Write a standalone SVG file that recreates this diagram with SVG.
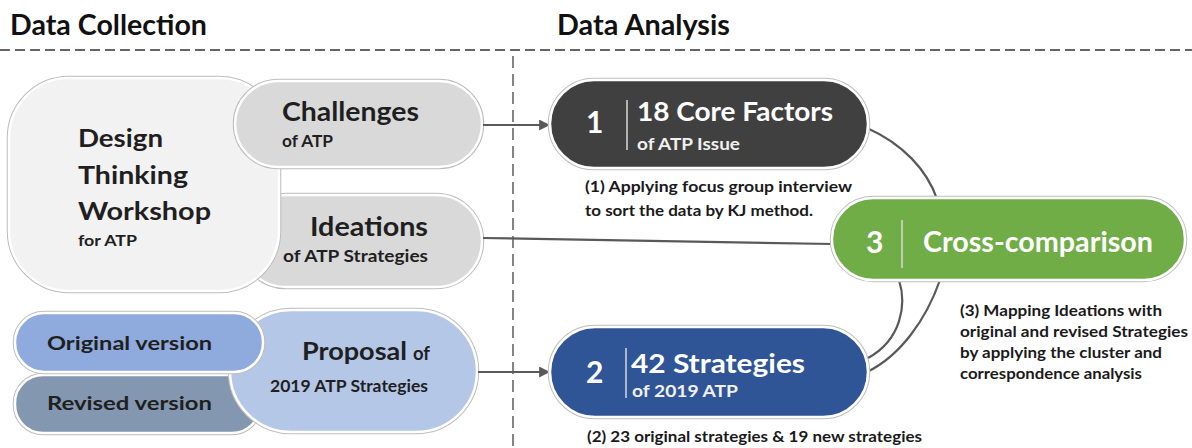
<svg xmlns="http://www.w3.org/2000/svg" width="1192" height="448" viewBox="0 0 1192 448">
<defs>
<style>
text{font-family:Lato,"Open Sans","Liberation Sans",sans-serif;font-weight:700}
.title{font-size:28px;fill:#111}
.dark{fill:#1f1f1f}
.wh{fill:#ffffff}
.sub{fill:#f0f0f0}
.ann{font-size:16px;fill:#1a1a1a}
.outer{stroke:#bdbdbd;stroke-width:4.5}
.inner{stroke:#ffffff;stroke-width:2.5}
.conn{fill:none;stroke:#595959;stroke-width:2.2}
.div{stroke:#d9d9d9;stroke-width:1.5}
</style>
<marker id="ah" viewBox="0 0 10 10" refX="9" refY="5" markerWidth="5" markerHeight="5" orient="auto" markerUnits="strokeWidth">
<path d="M0,0 L10,5 L0,10 z" fill="#595959"/>
</marker>
</defs>
<rect width="1192" height="448" fill="#ffffff"/>

<g id="headers">
<text class="title" x="10" y="35" textLength="197" lengthAdjust="spacingAndGlyphs">Data Collection</text>
<text class="title" x="557" y="35" textLength="173" lengthAdjust="spacingAndGlyphs">Data Analysis</text>
<line x1="0" y1="50" x2="1192" y2="50" stroke="#333" stroke-width="1.5" stroke-dasharray="10 5"/>
<line x1="513" y1="56" x2="513" y2="448" stroke="#444" stroke-width="1.3" stroke-dasharray="12 6"/>
</g>

<g id="ideations">
<rect class="outer" x="240" y="195" width="242" height="92" rx="46" fill="#d9d9d9"/>
<rect class="inner" x="240" y="195" width="242" height="92" rx="46" fill="#d9d9d9"/>
<text class="dark" x="310" y="236" font-size="27" textLength="118" lengthAdjust="spacingAndGlyphs">Ideations</text>
<text class="dark" x="283" y="262" font-size="17" textLength="145" lengthAdjust="spacingAndGlyphs">of ATP Strategies</text>
</g>

<g id="workshop">
<rect class="outer" x="9" y="78" width="270" height="213" rx="60" fill="#f2f2f2"/>
<rect class="inner" x="9" y="78" width="270" height="213" rx="60" fill="#f2f2f2"/>
<text class="dark" x="78" y="147" font-size="25" textLength="85" lengthAdjust="spacingAndGlyphs">Design</text>
<text class="dark" x="78" y="184" font-size="25" textLength="110" lengthAdjust="spacingAndGlyphs">Thinking</text>
<text class="dark" x="78" y="220" font-size="25" textLength="133" lengthAdjust="spacingAndGlyphs">Workshop</text>
<text class="dark" x="78" y="246" font-size="16" textLength="59" lengthAdjust="spacingAndGlyphs">for ATP</text>
</g>

<g id="challenges">
<rect class="outer" x="235" y="81" width="247" height="86" rx="43" fill="#d9d9d9"/>
<rect class="inner" x="235" y="81" width="247" height="86" rx="43" fill="#d9d9d9"/>
<text class="dark" x="282" y="121" font-size="26" textLength="137" lengthAdjust="spacingAndGlyphs">Challenges</text>
<text class="dark" x="282" y="147" font-size="17" textLength="51" lengthAdjust="spacingAndGlyphs">of ATP</text>
</g>

<g id="revised">
<rect class="outer" x="15" y="375" width="245" height="58" rx="28" fill="#8497b0"/>
<rect class="inner" x="15" y="375" width="245" height="58" rx="28" fill="#8497b0"/>
<text class="dark" x="47" y="410" font-size="19" textLength="165" lengthAdjust="spacingAndGlyphs">Revised version</text>
</g>

<g id="proposal">
<rect class="outer" x="230" y="310" width="247" height="122" rx="61" fill="#b4c7e7"/>
<rect class="inner" x="230" y="310" width="247" height="122" rx="61" fill="#b4c7e7"/>
<text class="dark" x="302" y="360" font-size="25" textLength="105" lengthAdjust="spacingAndGlyphs">Proposal</text>
<text class="dark" x="413" y="360" font-size="18" textLength="17" lengthAdjust="spacingAndGlyphs">of</text>
<text class="dark" x="270" y="392" font-size="17" textLength="158" lengthAdjust="spacingAndGlyphs">2019 ATP Strategies</text>
</g>

<g id="original">
<rect class="outer" x="15" y="313" width="248" height="59" rx="29" fill="#8faadc"/>
<rect class="inner" x="15" y="313" width="248" height="59" rx="29" fill="#8faadc"/>
<text class="dark" x="47" y="350" font-size="19" textLength="165" lengthAdjust="spacingAndGlyphs">Original version</text>
</g>

<g id="connectors">
<line class="conn" x1="483" y1="125" x2="549" y2="125" marker-end="url(#ah)"/>
<line class="conn" x1="478" y1="372" x2="549" y2="372" marker-end="url(#ah)"/>
<path class="conn" d="M483,238 L833,244"/>
<path class="conn" d="M867,128 C903,144 927,170 937,199"/>
<path class="conn" d="M899,280 C907,305 901,340 868,358"/>
<path class="conn" d="M940,280 C926,320 900,356 867,372"/>
</g>

<g id="core-factors">
<rect class="outer" x="550" y="80" width="318" height="88" rx="44" fill="#404040"/>
<rect class="inner" x="550" y="80" width="318" height="88" rx="44" fill="#404040"/>
<text class="wh" x="586" y="133" font-size="30">1</text>
<line class="div" x1="627" y1="100" x2="627" y2="150"/>
<text class="wh" x="637" y="121" font-size="27" textLength="196" lengthAdjust="spacingAndGlyphs">18 Core Factors</text>
<text class="sub" x="637" y="150" font-size="17" textLength="103" lengthAdjust="spacingAndGlyphs">of ATP Issue</text>
</g>
<g id="ann1">
<text class="ann" x="585" y="192" textLength="267" lengthAdjust="spacingAndGlyphs">(1) Applying focus group interview</text>
<text class="ann" x="585" y="216" textLength="228" lengthAdjust="spacingAndGlyphs">to sort the data by KJ method.</text>
</g>

<g id="strategies">
<rect class="outer" x="550" y="327" width="318" height="90" rx="45" fill="#2f5597"/>
<rect class="inner" x="550" y="327" width="318" height="90" rx="45" fill="#2f5597"/>
<text class="wh" x="586" y="383" font-size="30">2</text>
<line class="div" x1="626" y1="348" x2="626" y2="398"/>
<text class="wh" x="631" y="373" font-size="27" textLength="174" lengthAdjust="spacingAndGlyphs">42 Strategies</text>
<text class="sub" x="632" y="397" font-size="17" textLength="106" lengthAdjust="spacingAndGlyphs">of 2019 ATP</text>
</g>
<g id="ann2">
<text class="ann" x="587" y="442" textLength="335" lengthAdjust="spacingAndGlyphs">(2) 23 original strategies &amp; 19 new strategies</text>
</g>

<g id="cross-comparison">
<rect class="outer" x="832" y="198" width="353" height="82" rx="41" fill="#70ad47"/>
<rect class="inner" x="832" y="198" width="353" height="82" rx="41" fill="#70ad47"/>
<text class="wh" x="866" y="253" font-size="30">3</text>
<line class="div" x1="902" y1="220" x2="902" y2="268"/>
<text class="wh" x="923" y="252" font-size="28" textLength="230" lengthAdjust="spacingAndGlyphs">Cross-comparison</text>
</g>
<g id="ann3">
<text class="ann" x="960" y="316" textLength="202" lengthAdjust="spacingAndGlyphs">(3) Mapping Ideations with</text>
<text class="ann" x="960" y="337" textLength="228" lengthAdjust="spacingAndGlyphs">original and revised Strategies</text>
<text class="ann" x="960" y="358" textLength="202" lengthAdjust="spacingAndGlyphs">by applying the cluster and</text>
<text class="ann" x="960" y="379" textLength="182" lengthAdjust="spacingAndGlyphs">correspondence analysis</text>
</g>
</svg>
